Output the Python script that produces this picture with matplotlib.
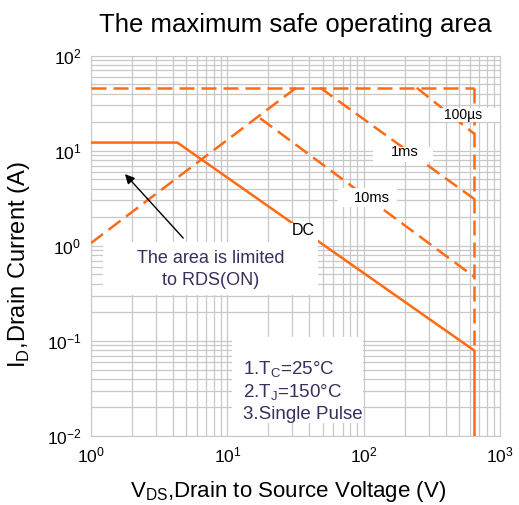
import matplotlib
matplotlib.use("Agg")
from matplotlib import pyplot as plt
from matplotlib.patches import Rectangle
from matplotlib.ticker import LogLocator, NullFormatter

plt.rcParams['font.family'] = ['Liberation Sans', 'DejaVu Sans']

# limit lines
top_x = [1, 650]
top_y = [46, 46]
vmax_x = [650, 650]
vmax_y = [46, 0.079]
rds_x = [1, 32]
rds_y = [1.07, 46]
t100us_x = [245, 650]
t100us_y = [46, 15]
t1ms_x = [48, 650]
t1ms_y = [46, 3.1]
t10ms_x = [17.4, 650]
t10ms_y = [22, 0.47]
dc_x = [1, 4.3, 650, 650]
dc_y = [12.2, 12.2, 0.079, 0.01]

orange = '#ff6a13'
txt = '#3b2d5c'

fig = plt.figure(figsize=(5.19, 5.05), dpi=100)
ax = fig.add_axes([0.1753, 0.1366, 0.7881, 0.7531])
ax.set_xscale('log')
ax.set_yscale('log')
ax.set_xlim(1, 1000)
ax.set_ylim(0.01, 100)

ax.xaxis.set_minor_locator(LogLocator(base=10, subs=range(2, 10)))
ax.yaxis.set_minor_locator(LogLocator(base=10, subs=range(2, 10)))
ax.xaxis.set_minor_formatter(NullFormatter())
ax.yaxis.set_minor_formatter(NullFormatter())
ax.grid(True, which='both', color='#c8c8c8', lw=0.9)
ax.tick_params(which='both', length=0, labelsize=12.5, pad=7)
for s in ax.spines.values():
    s.set_color('#c8c8c8')

dash = (0, (6, 2.8))
for xs, ys in [(top_x, top_y), (vmax_x, vmax_y), (rds_x, rds_y),
               (t100us_x, t100us_y), (t1ms_x, t1ms_y), (t10ms_x, t10ms_y)]:
    ax.plot(xs, ys, color=orange, lw=1.8, linestyle=dash, zorder=3)
ax.plot(dc_x, dc_y, color=orange, lw=1.8, zorder=3)

# white boxes behind the labels (axes fractions)
for x0, x1, y0, y1 in [(0.846, 1.0, 0.826, 0.862), (0.689, 0.836, 0.720, 0.760),
                       (0.604, 0.748, 0.602, 0.652), (0.469, 0.555, 0.510, 0.560),
                       (0.029, 0.555, 0.371, 0.510), (0.345, 0.665, 0.034, 0.260)]:
    ax.add_patch(Rectangle((x0, y0), x1 - x0, y1 - y0, transform=ax.transAxes,
                           facecolor='white', edgecolor='none', zorder=4))

ax.text(535, 23.8, '100µs', fontsize=10, ha='center', va='center', zorder=5)
ax.text(201, 9.7, '1ms', fontsize=10.5, ha='center', va='center', zorder=5)
ax.text(115, 3.19, '10ms', fontsize=10.5, ha='center', va='center', zorder=5)
ax.text(35.9, 1.44, 'DC', fontsize=11.5, ha='center', va='center', zorder=5)

ax.annotate('', xy=(1.72, 5.98), xytext=(4.9, 1.15),
            arrowprops=dict(arrowstyle='-|>', color='black', lw=1, mutation_scale=14), zorder=6)
ax.text(7.6, 0.565, 'The area is limited\nto RDS(ON)', fontsize=13, color=txt,
        ha='center', va='center', linespacing=1.45, zorder=5)

ax.text(13.0, 0.0295, '1.T$_\\mathregular{C}$=25°C\n2.T$_\\mathregular{J}$=150°C\n3.Single Pulse',
        fontsize=13.5, color=txt, ha='left', va='center', linespacing=1.2, zorder=5)

ax.set_title('The maximum safe operating area', fontsize=18.5, pad=17)
ax.set_xlabel('V$_\\mathregular{DS}$,Drain to Source Voltage (V)', fontsize=16)
ax.set_ylabel('I$_\\mathregular{D}$,Drain Current (A)', fontsize=17)
ax.xaxis.set_label_coords(0.483, -0.112)
ax.yaxis.set_label_coords(-0.144, 0.45)

fig.savefig('out.png', dpi=100)
